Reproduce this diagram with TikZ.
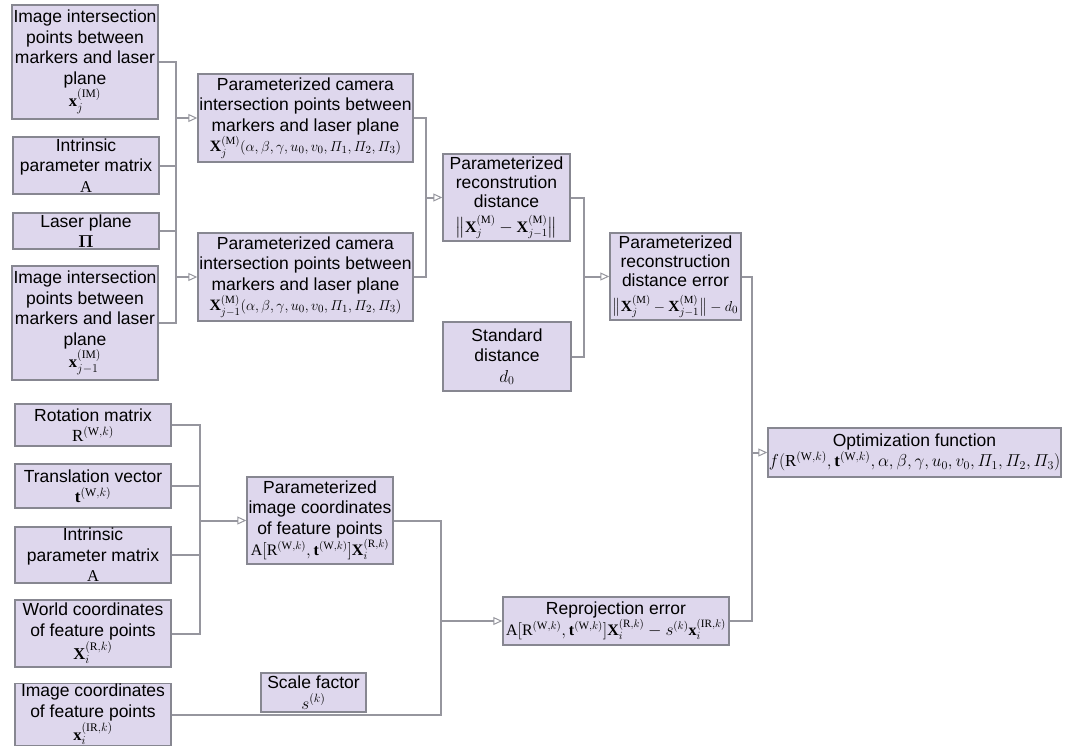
\documentclass[tikz,border=0pt]{standalone}
\usepackage{amsmath}
\usepackage{fontspec}
\setmainfont{Liberation Sans}
\setmathrm{Liberation Serif}
\usetikzlibrary{arrows.meta}
\definecolor{boxfill}{RGB}{222,215,237}
\definecolor{boxdraw}{RGB}{135,135,145}
\definecolor{linegray}{RGB}{150,150,158}
\tikzset{
  box/.style={draw=boxdraw, fill=boxfill, line width=1.4pt, inner sep=0pt, align=center,
    font=\fontsize{17.5}{20.5}\selectfont},
  tight/.style={font=\fontsize{17.5}{19}\selectfont},
  conn/.style={draw=linegray, line width=2pt},
  arr/.style={conn, -{Triangle[open, length=9pt, width=8pt, line width=1pt]}},
}
\newcommand{\bx}{\mathbf{x}}
\newcommand{\bX}{\mathbf{X}}
\newcommand{\mt}[2][16.5]{{\fontsize{#1}{18}\selectfont$#2$}}
\begin{document}
\begin{tikzpicture}[x=1pt,y=-1pt]
\useasboundingbox (0,0) rectangle (1069,748);
% upper left inputs
\node[box, minimum width=146pt, minimum height=114pt] (A1) at (85,62)
  {Image intersection\\points between\\markers and laser\\plane\\\mt{\bx_j^{(\mathrm{IM})}}};
\node[box, minimum width=146pt, minimum height=57pt] (A2) at (86,165.5)
  {Intrinsic\\parameter matrix\\\mt{\mathrm{A}}};
\node[box, minimum width=146pt, minimum height=36pt] (A3) at (86,231)
  {Laser plane\\\mt{\boldsymbol{\Pi}}};
\node[box, minimum width=146pt, minimum height=114pt] (A4) at (85,323)
  {Image intersection\\points between\\markers and laser\\plane\\\mt{\bx_{j-1}^{(\mathrm{IM})}}};
% parameterized camera points
\node[box, minimum width=215pt, minimum height=88pt] (B1) at (305.5,118)
  {Parameterized camera\\intersection points between\\markers and laser plane\\\mt[15.8]{\bX_j^{(\mathrm{M})}(\alpha,\beta,\gamma,u_0,v_0,\varPi_1,\varPi_2,\varPi_3)}};
\node[box, minimum width=215pt, minimum height=88pt] (B2) at (305.5,277)
  {Parameterized camera\\intersection points between\\markers and laser plane\\\mt[15.8]{\bX_{j-1}^{(\mathrm{M})}(\alpha,\beta,\gamma,u_0,v_0,\varPi_1,\varPi_2,\varPi_3)}};
% distance
\node[box, tight, minimum width=127pt, minimum height=87pt] (C1) at (506.5,197.5)
  {Parameterized\\reconstrution\\distance\\[6pt]\mt[16]{\bigl\|\bX_j^{(\mathrm{M})}-\bX_{j-1}^{(\mathrm{M})}\bigr\|}};
\node[box, minimum width=128pt, minimum height=69pt] (SD) at (507,356.5)
  {Standard\\distance\\\mt{d_0}};
\node[box, tight, minimum width=131pt, minimum height=87pt] (C2) at (675.5,276.5)
  {Parameterized\\reconstruction\\distance error\\[6pt]\mt[15.5]{\bigl\|\bX_j^{(\mathrm{M})}-\bX_{j-1}^{(\mathrm{M})}\bigr\|-d_0}};
\node[box, minimum width=293pt, minimum height=49pt] (Opt) at (914.5,452.5)
  {Optimization function\\\mt[16.8]{f(\mathrm{R}^{(\mathrm{W},k)},\mathbf{t}^{(\mathrm{W},k)},\alpha,\beta,\gamma,u_0,v_0,\varPi_1,\varPi_2,\varPi_3)}};
% lower left inputs
\node[box, minimum width=156pt, minimum height=42pt] (D1) at (93,425)
  {Rotation matrix\\\mt[17]{\mathrm{R}^{(\mathrm{W},k)}}};
\node[box, minimum width=156pt, minimum height=44pt] (D2) at (93,486)
  {Translation vector\\\mt[17]{\mathbf{t}^{(\mathrm{W},k)}}};
\node[box, minimum width=156pt, minimum height=56pt] (D3) at (93,555)
  {Intrinsic\\parameter matrix\\\mt{\mathrm{A}}};
\node[box, minimum width=156pt, minimum height=67pt] (D4) at (93,633.5)
  {World coordinates\\of feature points\\\mt{\bX_i^{(\mathrm{R},k)}}};
\node[box, minimum width=156pt, minimum height=62pt] (D5) at (93,714.5)
  {Image coordinates\\of feature points\\\mt{\bx_i^{(\mathrm{IR},k)}}};
\node[box, minimum width=146pt, minimum height=87pt] (E1) at (320,520.5)
  {Parameterized\\image coordinates\\of feature points\\\mt[16]{\mathrm{A}[\mathrm{R}^{(\mathrm{W},k)},\mathbf{t}^{(\mathrm{W},k)}]\bX_i^{(\mathrm{R},k)}}};
\node[box, minimum width=226pt, minimum height=48pt] (Rep) at (616,621)
  {Reprojection error\\\mt[16]{\mathrm{A}[\mathrm{R}^{(\mathrm{W},k)},\mathbf{t}^{(\mathrm{W},k)}]\bX_i^{(\mathrm{R},k)}-s^{(k)}\bx_i^{(\mathrm{IR},k)}}};
\node[box, minimum width=105pt, minimum height=39pt] (SF) at (313.5,692.5)
  {Scale factor\\\mt{s^{(k)}}};
% bus coordinates
\coordinate (busA) at (176,0);
\coordinate (busB) at (426,0);
\coordinate (busC) at (584,0);
\coordinate (busD) at (752,0);
\coordinate (busE) at (200,0);
\coordinate (busF) at (441,0);
% bus A
\draw[conn] (A1.east) -- (A1.east -| busA) -- (A4.east -| busA) -- (A4.east);
\draw[conn] (A2.east) -- (A2.east -| busA);
\draw[conn] (A3.east) -- (A3.east -| busA);
\draw[arr] (B1.west -| busA) -- (B1.west);
\draw[arr] (B2.west -| busA) -- (B2.west);
% bus B
\draw[conn] (B1.east) -- (B1.east -| busB) -- (B2.east -| busB) -- (B2.east);
\draw[arr] (C1.west -| busB) -- (C1.west);
% bus C
\draw[conn] (C1.east) -- (C1.east -| busC) -- (SD.east -| busC) -- (SD.east);
\draw[arr] (C2.west -| busC) -- (C2.west);
% bus D
\draw[conn] (C2.east) -- (C2.east -| busD) -- (Rep.east -| busD) -- (Rep.east);
\draw[arr] (Opt.west -| busD) -- (Opt.west);
% bus E
\draw[conn] (D1.east) -- (D1.east -| busE) -- (D4.east -| busE) -- (D4.east);
\draw[conn] (D2.east) -- (D2.east -| busE);
\draw[conn] (D3.east) -- (D3.east -| busE);
\draw[arr] (E1.west -| busE) -- (E1.west);
% bus F
\draw[conn] (E1.east) -- (E1.east -| busF) -- (D5.east -| busF) -- (D5.east);
\draw[arr] (Rep.west -| busF) -- (Rep.west);
\end{tikzpicture}
\end{document}
